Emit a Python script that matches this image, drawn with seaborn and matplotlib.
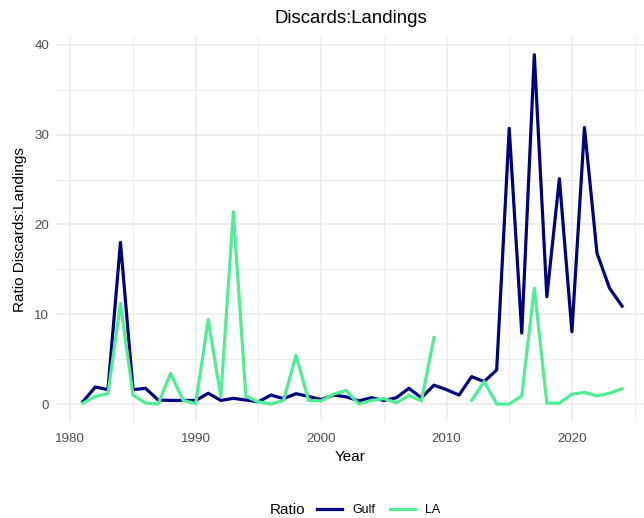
import numpy as np
import pandas as pd
import matplotlib
matplotlib.use("Agg")
import matplotlib.pyplot as plt
import seaborn as sns
from matplotlib.ticker import MultipleLocator

# Data

years = list(range(1981, 2025))

gulf = [0.26, 1.9, 1.6, 18.0, 1.6, 1.75, 0.45, 0.4, 0.4, 0.4,
        1.2, 0.4, 0.63, 0.45, 0.25, 1.0, 0.6, 1.15, 0.85, 0.5,
        1.0, 0.8, 0.35, 0.7, 0.4, 0.7, 1.75, 0.7, 2.1, 1.6,
        1.0, 3.05, 2.5, 3.8, 30.7, 7.9, 38.9, 11.95, 25.1, 8.05,
        30.8, 16.8, 12.9, 10.9]

la = [0.1, 0.85, 1.15, 11.2, 1.0, 0.1, 0.0, 3.4, 0.4, 0.05,
      9.4, 0.8, 21.4, 0.85, 0.25, 0.0, 0.4, 5.45, 0.4, 0.35,
      1.1, 1.5, 0.0, 0.4, 0.6, 0.15, 0.95, 0.35, 7.4, np.nan,
      np.nan, 0.4, 2.5, 0.0, 0.0, 0.9, 12.9, 0.1, 0.1, 1.1,
      1.3, 0.9, 1.2, 1.7]

series = ["Gulf", "LA"]
colors = {"Gulf": "#000080", "LA": "#4EEE94"}

# Long format, with a segment id so gaps stay gaps

frames = []
for name, vals in zip(series, [gulf, la]):
    d = pd.DataFrame({"Year": years, "value": vals, "Ratio": name})
    d["seg"] = name + "_" + d["value"].isna().cumsum().astype(str)
    frames.append(d.dropna())
df = pd.concat(frames, ignore_index=True)

# Plot

plt.rcParams["font.family"] = ["Liberation Sans", "DejaVu Sans"]

W, H = 644, 518
fig = plt.figure(figsize=(W / 100, H / 100), dpi=100)

left_px, right_px = 55.9, 644
top_px, bottom_px = 37.2, 421.5
ax = fig.add_axes([left_px / W, 1 - bottom_px / H,
                   (right_px - left_px) / W, (bottom_px - top_px) / H])

sns.lineplot(
    data=df,
    x="Year",
    y="value",
    hue="Ratio",
    units="seg",
    estimator=None,
    palette=colors,
    hue_order=series,
    linewidth=2.3,
    legend=False,
    ax=ax
)

ax.set_xlim(1978.85, 1978.85 + (right_px - left_px) / 12.54)
ax.set_ylim(-1.945, 40.85)

ax.xaxis.set_major_locator(MultipleLocator(10))
ax.xaxis.set_minor_locator(MultipleLocator(5))
ax.yaxis.set_major_locator(MultipleLocator(10))
ax.yaxis.set_minor_locator(MultipleLocator(5))

ax.grid(which="major", color="#EBEBEB", linewidth=1.1)
ax.grid(which="minor", color="#EBEBEB", linewidth=0.6)
ax.set_axisbelow(True)
for s in ax.spines.values():
    s.set_visible(False)
ax.tick_params(which="both", length=0, labelsize=9.6, labelcolor="#4D4D4D")
ax.tick_params(axis="x", pad=8)
ax.tick_params(axis="y", pad=5)
ax.set_facecolor("white")

ax.set_xlabel("Year", fontsize=11, labelpad=4)
ax.set_ylabel("Ratio Discards:Landings", fontsize=11, labelpad=5)
fig.text(351 / W, 1 - 18.5 / H, "Discards:Landings", ha="center", va="center", fontsize=13.4)

# Legend at bottom, title on the left

handles = [plt.Line2D([], [], color=colors[s], linewidth=2.3) for s in series]
fig.legend(
    handles,
    series,
    loc="center left",
    bbox_to_anchor=(312 / W, 1 - 510 / H),
    ncol=2,
    frameon=False,
    fontsize=9,
    handlelength=2.0,
    handletextpad=0.8,
    columnspacing=1.2,
    borderaxespad=0
)
fig.text(270 / W, 1 - 510 / H, "Ratio", ha="left", va="center", fontsize=11)

fig.savefig("out.png", dpi=100, facecolor="white")
plt.close()
